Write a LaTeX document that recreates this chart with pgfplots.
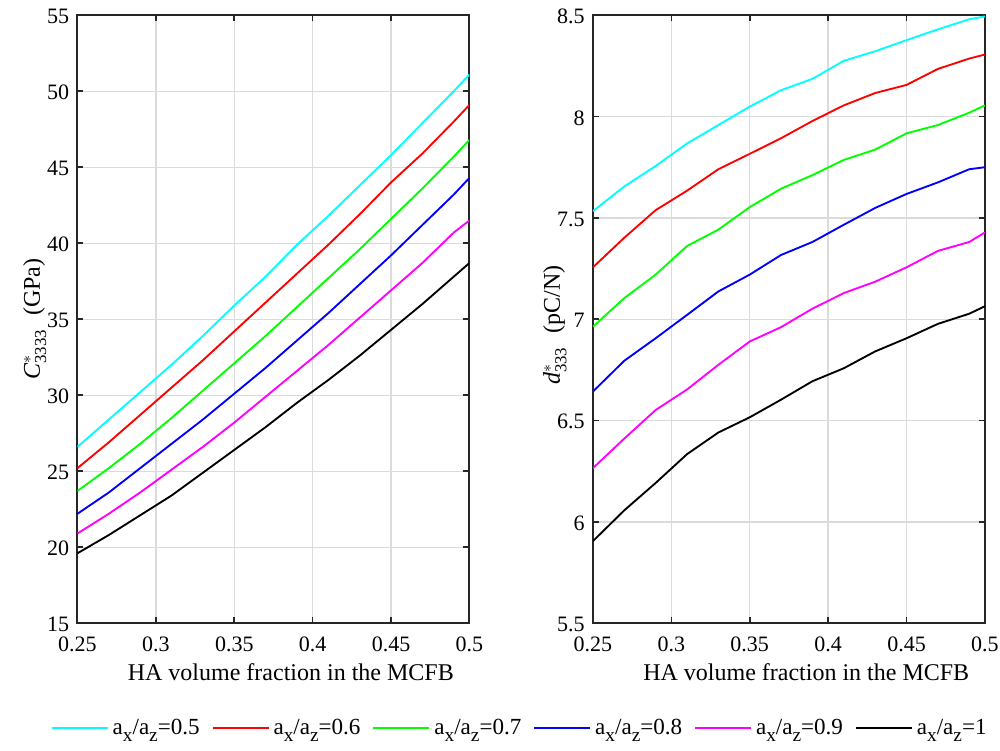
\documentclass[border=0pt]{standalone}
\usepackage{fontspec}
\setmainfont{Liberation Serif}
\usepackage{amsmath}
\usepackage{pgfplots}
\pgfplotsset{compat=1.18}
\usepackage{pgfplotstable}
\definecolor{mcyan}{rgb}{0,1,1}
\definecolor{mgreen}{rgb}{0,1,0}
\definecolor{mmag}{rgb}{1,0,1}
\definecolor{axgray}{rgb}{0.15,0.15,0.15}

\pgfplotstableread{
x     a     b     c     d     e     f
0.25  26.6  25.2  23.7  22.2  20.9  19.6
0.27  28.4  26.9  25.2  23.6  22.2  20.8
0.29  30.2  28.7  26.8  25.2  23.6  22.1
0.31  32.0  30.5  28.5  26.8  25.1  23.4
0.33  33.9  32.3  30.3  28.4  26.6  24.9
0.35  35.9  34.2  32.1  30.1  28.2  26.4
0.37  37.8  36.1  33.9  31.8  29.9  27.9
0.39  39.9  38.0  35.8  33.6  31.6  29.5
0.41  41.8  39.9  37.7  35.4  33.3  31.0
0.43  43.8  41.9  39.6  37.3  35.1  32.6
0.45  45.8  44.0  41.6  39.2  36.9  34.3
0.47  47.9  45.9  43.6  41.2  38.7  36.0
0.49  50.0  48.0  45.7  43.2  40.7  37.8
0.50  51.1  49.1  46.8  44.3  41.5  38.7
}\leftdata

\pgfplotstableread{
x     a      b      c      d      e      f
0.25  7.533  7.256  6.963  6.643  6.265  5.905
0.27  7.655  7.402  7.104  6.795  6.411  6.057
0.29  7.756  7.538  7.220  6.906  6.552  6.192
0.31  7.867  7.634  7.361  7.021  6.653  6.334
0.33  7.958  7.740  7.442  7.137  6.775  6.441
0.35  8.049  7.816  7.553  7.220  6.890  6.516
0.37  8.130  7.893  7.644  7.317  6.961  6.603
0.39  8.186  7.978  7.711  7.381  7.052  6.694
0.41  8.275  8.055  7.786  7.466  7.129  6.758
0.43  8.322  8.116  7.837  7.549  7.185  6.841
0.45  8.377  8.156  7.917  7.618  7.256  6.906
0.47  8.430  8.235  7.958  7.675  7.337  6.977
0.49  8.480  8.286  8.019  7.740  7.381  7.027
0.50  8.494  8.306  8.055  7.750  7.428  7.064
}\rightdata

\newcommand{\ratio}[1]{a\raisebox{-0.65ex}{\fontsize{14.5}{15}\selectfont x}/a\raisebox{-0.65ex}{\fontsize{14.5}{15}\selectfont z}=#1}

\pgfplotsset{
  mystyle/.style={
    width=294pt, height=456pt, scale only axis,
    xmin=0.25, xmax=0.5,
    xtick={0.25,0.3,0.35,0.4,0.45,0.5},
    xticklabels={0.25,0.3,0.35,0.4,0.45,0.5},
    grid=major,
    major grid style={gray!28, line width=1pt},
    tick align=inside,
    tick pos=both,
    major tick length=4.5pt,
    axis line style={axgray, line width=1.5pt},
    every tick/.style={axgray, line width=1.2pt},
    tick label style={font=\fontsize{16.5}{18}\selectfont, inner sep=0pt},
    xticklabel style={anchor=center, yshift=-16pt},
    yticklabel style={anchor=east, xshift=-6pt, yshift=-1pt},
    label style={font=\fontsize{18}{20}\selectfont},
    /pgf/number format/assume math mode=true,
    xlabel={HA volume fraction in the MCFB},
    xlabel style={at={(axis description cs:0.5,0)}, anchor=center, yshift=-36.5pt, xshift=13pt},
    every axis plot/.append style={line width=1.4pt},
    clip=true,
  }
}

\begin{document}
\begin{tikzpicture}
\begin{axis}[mystyle,
  ymin=15, ymax=55, ytick={15,20,...,55},
  ylabel={\textit{C}$^{*}_{\text{3333}}$\;\;(GPa)},
  ylabel style={at={(axis description cs:-0.109,0.5)}, anchor=center, rotate=0},
  legend columns=6,
  legend style={draw=none, fill=none, at={(1.129,-0.172)}, anchor=center,
    font=\fontsize{17.3}{20}\selectfont, inner sep=0pt,
    /tikz/every odd column/.append style={column sep=1pt},
    /tikz/every even column/.append style={column sep=7pt}},
  legend image code/.code={\draw[mark repeat=2,mark phase=2,#1] plot coordinates {(0pt,0pt) (21pt,0pt) (42pt,0pt)};},
]
\addplot[mcyan] table[x=x,y=a]{\leftdata};
\addlegendentry{\ratio{0.5}}
\addplot[red] table[x=x,y=b]{\leftdata};
\addlegendentry{\ratio{0.6}}
\addplot[mgreen] table[x=x,y=c]{\leftdata};
\addlegendentry{\ratio{0.7}}
\addplot[blue] table[x=x,y=d]{\leftdata};
\addlegendentry{\ratio{0.8}}
\addplot[mmag] table[x=x,y=e]{\leftdata};
\addlegendentry{\ratio{0.9}}
\addplot[black] table[x=x,y=f]{\leftdata};
\addlegendentry{\ratio{1}}
\end{axis}
\begin{axis}[mystyle, xshift=386.6pt,
  ymin=5.5, ymax=8.5, ytick={5.5,6,...,8.5},
  yticklabels={5.5,6,6.5,7,7.5,8,8.5},
  ylabel={\textit{d}$^{*}_{\text{333}}$\;\;(pC/N)},
  ylabel style={at={(axis description cs:-0.097,0.49)}, anchor=center, rotate=0},
]
\addplot[mcyan] table[x=x,y=a]{\rightdata};
\addplot[red] table[x=x,y=b]{\rightdata};
\addplot[mgreen] table[x=x,y=c]{\rightdata};
\addplot[blue] table[x=x,y=d]{\rightdata};
\addplot[mmag] table[x=x,y=e]{\rightdata};
\addplot[black] table[x=x,y=f]{\rightdata};
\end{axis}
\pgfresetboundingbox
\path[use as bounding box] (-58.1pt,-95.8pt) rectangle (691.9pt,467.4pt);
\end{tikzpicture}
\end{document}
